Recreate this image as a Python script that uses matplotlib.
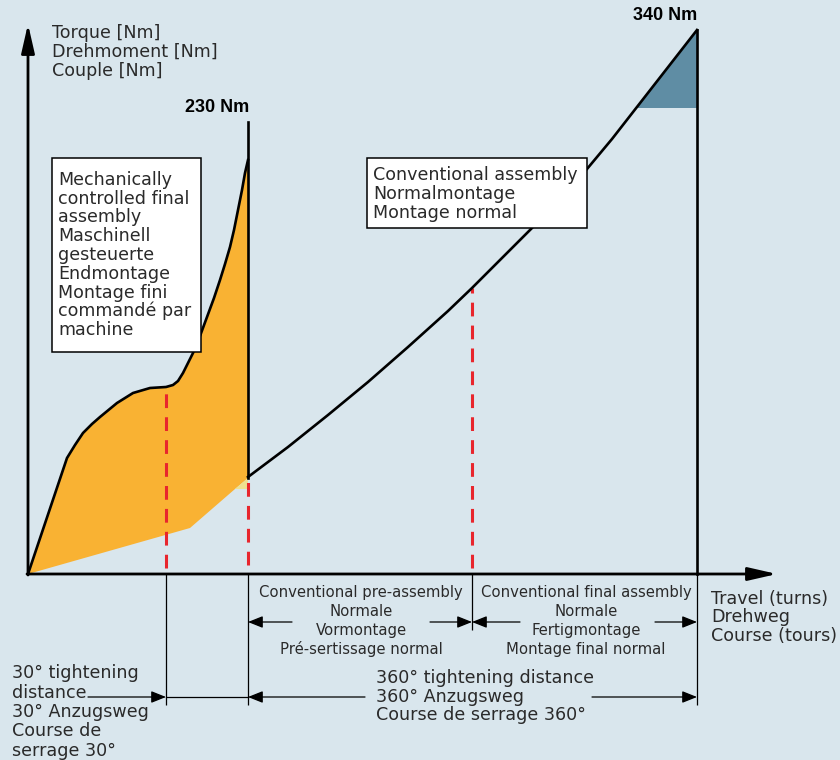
import matplotlib.pyplot as plt
import numpy as np
from matplotlib.patches import Rectangle

# Schematic units: travel along x, torque along y, origin where the axes cross
mech_travel = [0, 39, 47, 55, 64, 72, 89, 105, 122, 138, 145, 150, 155, 160, 165,
               172, 179, 186, 192, 197, 202, 206, 210, 214, 217, 220]
mech_torque = [0, 116, 129, 141, 150, 157, 171, 181, 186, 187, 189, 193, 201, 211, 221,
               238, 257, 276, 294, 310, 327, 344, 364, 384, 401, 414]
mech_low_travel = [0, 162, 207, 220]
mech_low_torque = [0, 46, 85, 96]

conv_travel = [220, 260, 300, 340, 380, 420, 444, 474, 504, 534, 559, 584, 669]
conv_torque = [97, 127, 159, 192, 227, 263, 286, 316, 346, 378, 405, 435, 544]

mech_stop = 220        # end of mechanically controlled assembly (230 Nm)
mech_stop_top = 452
mech_30deg = 138       # 30° before the stop
conv_pre_end = 444     # end of conventional pre-assembly
conv_end = 669         # end of conventional assembly (340 Nm)
conv_band = 466        # lower edge of the 340 Nm band

axis_label = ["Torque [Nm]", "Drehmoment [Nm]", "Couple [Nm]"]
travel_label = ["Travel (turns)", "Drehweg", "Course (tours)"]
mech_box = ["Mechanically", "controlled final", "assembly", "Maschinell",
            "gesteuerte", "Endmontage", "Montage fini", "commandé par", "machine"]
conv_box = ["Conventional assembly", "Normalmontage", "Montage normal"]
pre_text = ["Conventional pre-assembly", "Normale", "Vormontage", "Pré-sertissage normal"]
final_text = ["Conventional final assembly", "Normale", "Fertigmontage", "Montage final normal"]
dist_360 = ["360° tightening distance", "360° Anzugsweg", "Course de serrage 360°"]
dist_30 = ["30° tightening", "distance", "30° Anzugsweg", "Course de", "serrage 30°"]

BG = "#d9e6ed"
ORANGE = "#f9b233"
PALE = "#efe290"
BLUE = "#5f8da4"
RED = "#e8262d"
TXT = "#2a2a2a"

plt.rcParams["font.family"] = ["DejaVu Sans"]

fig = plt.figure(figsize=(8.4, 7.6), dpi=100, facecolor=BG)
ax = fig.add_axes([0, 0, 1, 1])
ax.set_xlim(-28, 812)
ax.set_ylim(-186, 574)
ax.axis("off")

# orange area of the mechanically controlled assembly
ax.fill(mech_travel + mech_low_travel[::-1], mech_torque + mech_low_torque[::-1],
        color=ORANGE, lw=0, zorder=1)
ax.fill([mech_low_travel[2], mech_stop, mech_stop],
        [mech_low_torque[2], mech_low_torque[2], mech_low_torque[3]],
        color=PALE, lw=0, zorder=1)
ax.plot(mech_travel, mech_torque, color="black", lw=1.9, zorder=3,
        solid_joinstyle="round")
ax.plot([mech_stop, mech_stop], [mech_low_torque[-1], mech_stop_top], color="black", lw=1.9, zorder=3)

# conventional curve and the blue band at 340 Nm
ct = np.array(conv_travel, dtype=float)
cq = np.array(conv_torque, dtype=float)
band_x = np.interp(conv_band, cq, ct)
ax.fill([band_x, conv_end, conv_end], [conv_band, conv_torque[-1], conv_band],
        color=BLUE, lw=0, zorder=1)
ax.plot(ct, cq, color="black", lw=1.9, zorder=3, solid_joinstyle="round")
ax.plot([conv_end, conv_end], [0, conv_torque[-1]], color="black", lw=1.9, zorder=3)

# red dashed markers
dash = dict(color=RED, lw=2.2, dashes=(4.5, 3), zorder=2)
ax.plot([mech_30deg, mech_30deg], [6, np.interp(mech_30deg, mech_travel, mech_torque)], **dash)
ax.plot([mech_stop, mech_stop], [9, mech_low_torque[-1]], **dash)
ax.plot([conv_pre_end, conv_pre_end], [6, np.interp(conv_pre_end, ct, cq)], **dash)

# axes with arrow heads
axis_arrow = dict(arrowstyle="-|>,head_length=1.75,head_width=0.4", mutation_scale=10,
                  lw=2, color="black", shrinkA=0, shrinkB=0)
ax.annotate("", xy=(0, 550), xytext=(0, -1), arrowprops=axis_arrow, zorder=4)
ax.annotate("", xy=(749, 0), xytext=(-1, 0), arrowprops=axis_arrow, zorder=4)

# dimension lines below the axis
dim_up, dim_low = -48, -123
ax.vlines([mech_30deg, mech_stop, conv_end], -131, 0, color="black", lw=0.9)
ax.vlines(conv_pre_end, -56, 0, color="black", lw=0.9)
dim_arrow = dict(arrowstyle="-|>,head_length=0.9,head_width=0.36", mutation_scale=10,
                 lw=0.9, color="black", shrinkA=0, shrinkB=0)
for start, end, y in [(264, mech_stop, dim_up), (402, conv_pre_end, dim_up),
                      (492, conv_pre_end, dim_up), (627, conv_end, dim_up),
                      (337, mech_stop, dim_low), (564, conv_end, dim_low),
                      (60, mech_30deg, dim_low)]:
    ax.annotate("", xy=(end, y), xytext=(start, y), arrowprops=dim_arrow)
ax.plot([mech_30deg, mech_stop], [dim_low, dim_low], color="black", lw=0.9)

# label boxes
ax.add_patch(Rectangle((24, 222), 149, 194, facecolor="white", edgecolor="black", lw=1.1, zorder=5))
ax.add_patch(Rectangle((339, 346), 220, 70, facecolor="white", edgecolor="black", lw=1.1, zorder=5))


def put_lines(x, y0, step, lines, **kw):
    for i, s in enumerate(lines):
        ax.text(x, y0 - i * step, s, va="center", color=TXT, zorder=6, **kw)


put_lines(24, 541, 19, axis_label, fontsize=12.6)
put_lines(30, 394, 18.75, mech_box, fontsize=12.6)
put_lines(345, 399, 19, conv_box, fontsize=12.6)
put_lines(333, -19, 18.7, pre_text, fontsize=10.7, ha="center")
put_lines(558, -19, 18.7, final_text, fontsize=10.7, ha="center")
put_lines(683, -25, 18.5, travel_label, fontsize=12.6)
put_lines(348, -104, 18.5, dist_360, fontsize=12.6)
put_lines(-16, -99, 19.5, dist_30, fontsize=12.6)

ax.text(189, 467, "230 Nm", ha="center", va="center", fontsize=13,
        fontweight="bold", family="Liberation Sans", color="black")
ax.text(637, 558, "340 Nm", ha="center", va="center", fontsize=13,
        fontweight="bold", family="Liberation Sans", color="black")

fig.savefig("out.png", dpi=100, facecolor=BG)
